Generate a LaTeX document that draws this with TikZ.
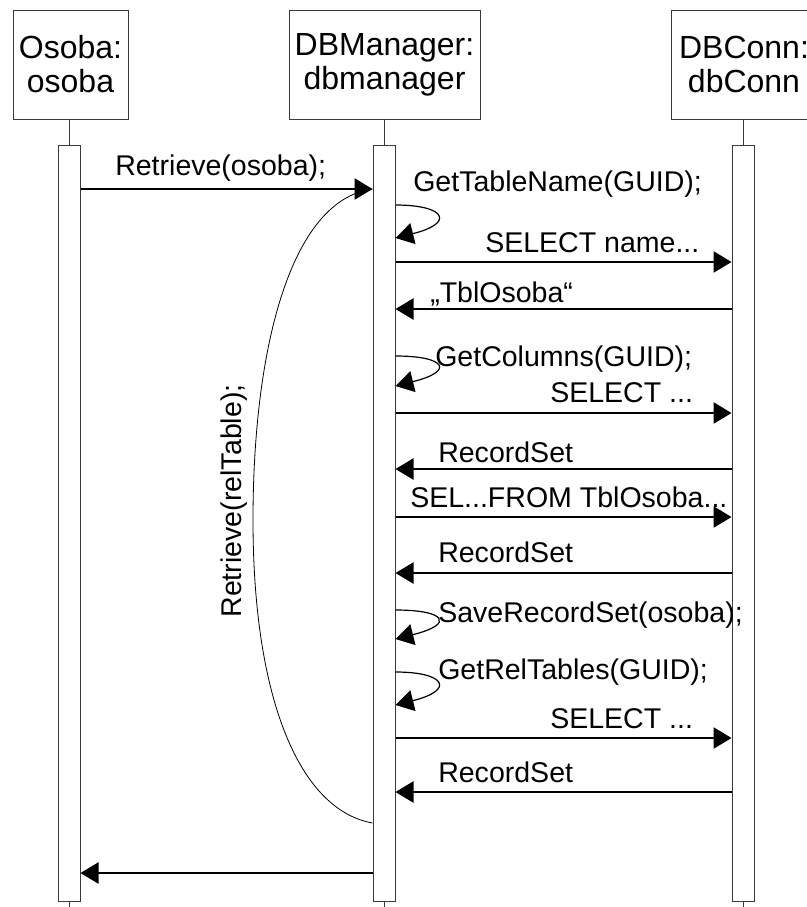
\documentclass[tikz,border=0pt]{standalone}
\usepackage{fontspec}
\setmainfont{Liberation Sans}
\usepackage{xcolor}
\usetikzlibrary{arrows.meta}
\definecolor{ink}{HTML}{000000}
\definecolor{frame}{HTML}{3A3A3A}
\tikzset{
  head/.style={draw=frame, line width=0.75pt, inner sep=0pt, align=center, minimum height=81.75pt, font=\fontsize{24}{25.5}\selectfont},
  bar/.style={draw=frame, fill=white, line width=0.75pt, minimum width=16.5pt, minimum height=567pt, inner sep=0pt},
  life/.style={draw=frame, line width=0.75pt},
  msg/.style={draw=ink, line width=0.9pt, -{Triangle[length=13.5pt,width=16pt]}},
  back/.style={draw=ink, line width=0.6pt},
  lab/.style={text=ink, font=\fontsize{21.4}{25}\selectfont, inner sep=0pt, anchor=base west},
}
\begin{document}
\begin{tikzpicture}[x=0.75pt,y=-0.75pt]
  \useasboundingbox (0,0) rectangle (807,907);
  \node[head, minimum width=86.25pt] (oshead) at (70.5,64.5) {Osoba:\\osoba};
  \node[head, minimum width=143.25pt] (mghead) at (384.5,64.5) {DBManager:\\dbmanager};
  \node[head, minimum width=109.5pt] (dbhead) at (744,64.5) {DBConn:\\dbConn};
  \node[bar] (osbar) at (69,523) {};
  \node[bar] (mgbar) at (384,523) {};
  \node[bar] (dbbar) at (743,523) {};
  \coordinate (bot) at (0,907);
  \draw[life] (osbar.north |- oshead.south) -- (osbar.north);
  \draw[life] (mgbar.north |- mghead.south) -- (mgbar.north);
  \draw[life] (dbbar.north |- dbhead.south) -- (dbbar.north);
  \draw[life] (osbar.south) -- (osbar.south |- bot);
  \draw[life] (mgbar.south) -- (mgbar.south |- bot);
  \draw[life] (dbbar.south) -- (dbbar.south |- bot);
  \coordinate (m1) at (0,189);
  \coordinate (m2a) at (0,205);
  \coordinate (m2b) at (0,238);
  \coordinate (m3) at (0,262);
  \coordinate (m4) at (0,309);
  \coordinate (m5a) at (0,356);
  \coordinate (m5b) at (0,386);
  \coordinate (m6) at (0,413);
  \coordinate (m7) at (0,469);
  \coordinate (m8) at (0,517);
  \coordinate (m9) at (0,573);
  \coordinate (m10a) at (0,610);
  \coordinate (m10b) at (0,639);
  \coordinate (m11a) at (0,672);
  \coordinate (m11b) at (0,705);
  \coordinate (m12) at (0,738);
  \coordinate (m13) at (0,792);
  \coordinate (m14) at (0,823);
  \coordinate (m15) at (0,873);
  \draw[msg] (osbar.east |- m1) -- (mgbar.west |- m1);
  \draw[msg] (mgbar.east |- m2a) .. controls +(50,0) and +(60,-15) .. (mgbar.east |- m2b);
  \draw[msg] (mgbar.east |- m3) -- (dbbar.west |- m3);
  \draw[msg] (dbbar.west |- m4) -- (mgbar.east |- m4);
  \draw[msg] (mgbar.east |- m5a) .. controls +(50,0) and +(60,-15) .. (mgbar.east |- m5b);
  \draw[msg] (mgbar.east |- m6) -- (dbbar.west |- m6);
  \draw[msg] (dbbar.west |- m7) -- (mgbar.east |- m7);
  \draw[msg] (mgbar.east |- m8) -- (dbbar.west |- m8);
  \draw[msg] (dbbar.west |- m9) -- (mgbar.east |- m9);
  \draw[msg] (mgbar.east |- m10a) .. controls +(50,0) and +(60,-15) .. (mgbar.east |- m10b);
  \draw[msg] (mgbar.east |- m11a) .. controls +(50,0) and +(60,-15) .. (mgbar.east |- m11b);
  \draw[msg] (mgbar.east |- m12) -- (dbbar.west |- m12);
  \draw[msg] (dbbar.west |- m13) -- (mgbar.east |- m13);
  \draw[back] (mgbar.west |- m14) .. controls (300,810) and (253,700) .. (253,520) .. controls (253,350) and (290,200) .. (mgbar.west |- m1);
  \draw[msg] (mgbar.west |- m15) -- (osbar.east |- m15);
  \node[lab] (l1) at (115,175) {Retrieve(osoba);};
  \node[lab] (l2) at (413,191) {GetTableName(GUID);};
  \node[lab] (l3) at (485,252) {SELECT name...};
  \node[lab] (l4) at (430,302) {„TblOsoba“};
  \node[lab] (l5) at (435,366) {GetColumns(GUID);};
  \node[lab] (l6) at (550,402) {SELECT ...};
  \node[lab] (l7) at (438,462) {RecordSet};
  \node[lab] (l8) at (410,507) {SEL...FROM TblOsoba...};
  \node[lab] (l9) at (438,562) {RecordSet};
  \node[lab] (l10) at (438,622) {SaveRecordSet(osoba);};
  \node[lab] (l11) at (438,679) {GetRelTables(GUID);};
  \node[lab] (l12) at (550,728) {SELECT ...};
  \node[lab] (l13) at (438,782) {RecordSet};
  \node[lab, anchor=center, rotate=90] (l14) at (234,501) {Retrieve(relTable);};
\end{tikzpicture}
\end{document}
